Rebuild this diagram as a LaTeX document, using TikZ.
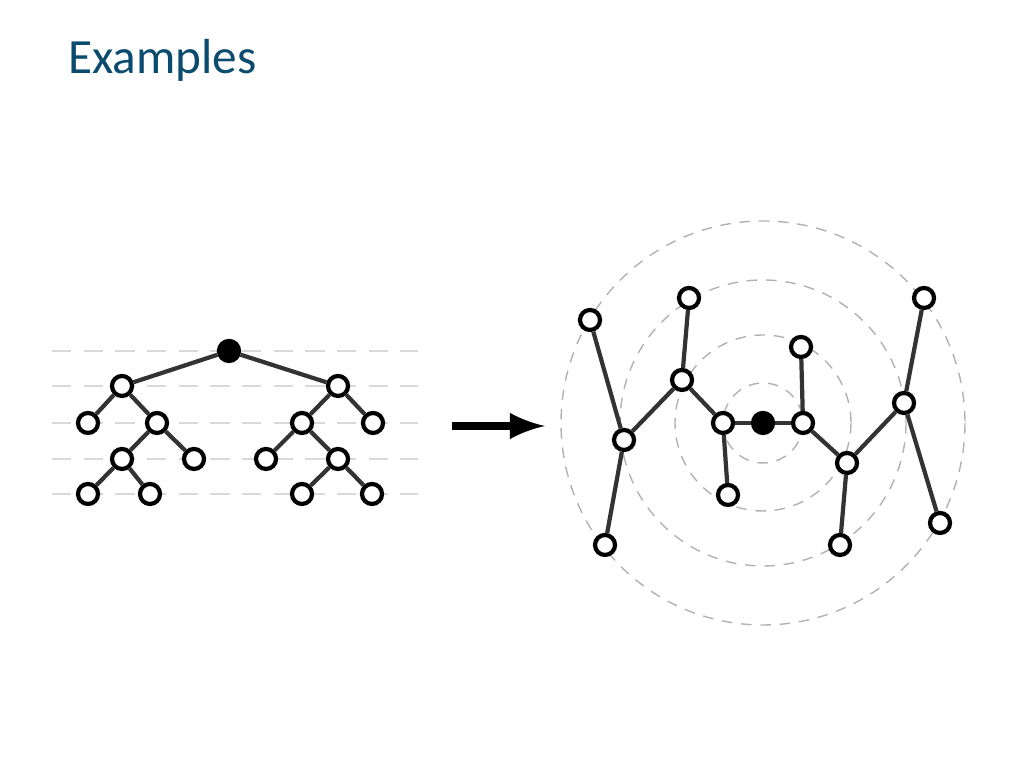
\documentclass[tikz,border=0pt]{standalone}
\usepackage{fontspec}
\setmainfont{Carlito}
\usepackage{xcolor}
\definecolor{titleblue}{RGB}{10,75,110}
\begin{document}
\begin{tikzpicture}%
        [x=0.01cm, y=-0.01cm,
        vert/.style={circle, draw=black, line width=1.2pt, fill=white, inner sep=0pt, minimum size=0.2cm},
        hub/.style={vert, fill=black},
        edge/.style={color=black!80, line width=1.2pt},
        level/.style={color=black!15, line width=0.8pt, dash pattern=on 5.5pt off 3.5pt},
        ring/.style={color=black!30, line width=0.4pt, dash pattern=on 3pt off 2.5pt}]
    \useasboundingbox (0,0) rectangle (1024,768);
    \node[anchor=west, text=titleblue, font=\fontsize{14pt}{16pt}\selectfont] (title) at (56,60) {Examples};
    %% Levels of the tree
    \foreach \yy in {351,386,423,459,494}
        \draw[level] (52,\yy) -- (418,\yy);
    %% Tree
    \node[hub] (r) at (229,351) {};
    \node[vert] (a) at (122,386) {};
    \node[vert] (b) at (338,386) {};
    \node[vert] (a1) at (88,423) {};
    \node[vert] (a2) at (157,423) {};
    \node[vert] (a21) at (122,459) {};
    \node[vert] (a22) at (194,459) {};
    \node[vert] (a211) at (88,494) {};
    \node[vert] (a212) at (150,494) {};
    \node[vert] (b1) at (302,423) {};
    \node[vert] (b2) at (373,423) {};
    \node[vert] (b11) at (266,459) {};
    \node[vert] (b12) at (338,459) {};
    \node[vert] (b121) at (302,494) {};
    \node[vert] (b122) at (372,494) {};
    \foreach \u/\v in {r/a,r/b,a/a1,a/a2,a2/a21,a2/a22,a21/a211,a21/a212,b/b1,b/b2,b1/b11,b1/b12,b12/b121,b12/b122}
        \draw[edge] (\u) -- (\v);
    %% Arrow
    \coordinate (p) at (452,426);
    \coordinate (q) at (545,426);
    \draw[line width=2.4pt, -latex] (p) -- (q);
    %% Rings
    \node[hub] (c) at (763,423) {};
    \foreach \rr in {40,88,143,202}
        \draw[ring] (c.center) circle (\rr);
    %% Radial layout
    \node[vert] (l1) at (723,423) {};
    \node[vert] (r1) at (803,423) {};
    \node[vert] (l2) at (728,495) {};
    \node[vert] (l3) at (682,380) {};
    \node[vert] (l4) at (689,298) {};
    \node[vert] (l5) at (624,440) {};
    \node[vert] (l6) at (590,320) {};
    \node[vert] (l7) at (605,545) {};
    \node[vert] (r2) at (801,347) {};
    \node[vert] (r3) at (847,463) {};
    \node[vert] (r4) at (904,403) {};
    \node[vert] (r5) at (840,545) {};
    \node[vert] (r6) at (924,298) {};
    \node[vert] (r7) at (940,523) {};
    \foreach \u/\v in {c/l1,c/r1,l1/l2,l1/l3,l3/l4,l3/l5,l5/l6,l5/l7,r1/r2,r1/r3,r3/r4,r3/r5,r4/r6,r4/r7}
        \draw[edge] (\u) -- (\v);
\end{tikzpicture}
\end{document}
